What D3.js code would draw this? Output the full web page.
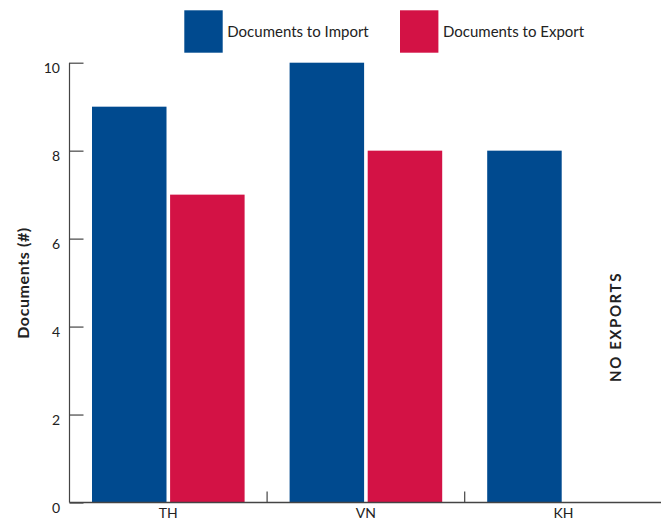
<!DOCTYPE html>
<html>
<head>
<meta charset="utf-8">
<script src="https://cdn.jsdelivr.net/npm/d3@7"></script>
<style>
  body { margin: 0; background: #fff; }
  svg { display: block; font-family: Lato, "Open Sans", sans-serif; }
</style>
</head>
<body>
<div id="chart"></div>
<script>
// Data
const countries = ["TH", "VN", "KH"];
const series = ["Documents to Import", "Documents to Export"];
const importDocs = [9, 10, 8];
const exportDocs = [7, 8, null];
const yTicks = [0, 2, 4, 6, 8, 10];
const colors = ["#004a8f", "#d31245"];

const width = 661, height = 523;
const axisX = 69.5;
const baseline = 502.5;
const plotTop = 62.7;

const svg = d3.select("#chart").append("svg")
  .attr("width", width)
  .attr("height", height);

const y = d3.scaleLinear().domain([0, 10]).range([baseline, plotTop]);
const x = d3.scaleBand().domain(countries).range([axisX, axisX + 3 * 197.6]).padding(0);
const inner = d3.scaleBand().domain(series).range([22.5, x.bandwidth() - 22.5]).paddingInner(0.046);

// bars
const rows = countries.map((c, i) => ({ c, vals: [importDocs[i], exportDocs[i]] }));
const groups = svg.append("g").selectAll("g").data(rows).enter().append("g")
  .attr("transform", d => `translate(${x(d.c)},0)`);
groups.selectAll("rect")
  .data(d => d.vals.map((v, j) => ({ v, s: series[j], j })).filter(e => e.v != null))
  .enter().append("rect")
  .attr("x", d => inner(d.s))
  .attr("width", inner.bandwidth())
  .attr("y", d => y(d.v))
  .attr("height", d => baseline - y(d.v))
  .attr("fill", d => colors[d.j]);

// y axis
const yAxis = svg.append("g")
  .attr("transform", `translate(${axisX},0)`)
  .call(d3.axisRight(y).tickValues(yTicks).tickSize(14).tickFormat(""));
yAxis.select(".domain").remove();
yAxis.selectAll("line").attr("stroke", "#444").attr("stroke-width", 1.2);
svg.append("line")
  .attr("x1", axisX).attr("x2", axisX)
  .attr("y1", y(10)).attr("y2", baseline)
  .attr("stroke", "#444").attr("stroke-width", 1.2);
svg.append("g").selectAll("text").data(yTicks).enter().append("text")
  .attr("x", 60).attr("y", d => y(d) + 10.5)
  .attr("text-anchor", "end")
  .attr("font-size", 14)
  .attr("fill", "#222")
  .text(d => d);

// x axis
svg.append("line")
  .attr("x1", axisX).attr("x2", width)
  .attr("y1", baseline).attr("y2", baseline)
  .attr("stroke", "#444").attr("stroke-width", 1.5);
svg.append("g").selectAll("line").data(countries.slice(1)).enter().append("line")
  .attr("x1", d => x(d)).attr("x2", d => x(d))
  .attr("y1", baseline - 11).attr("y2", baseline)
  .attr("stroke", "#444").attr("stroke-width", 1.2);
svg.append("g").selectAll("text").data(countries).enter().append("text")
  .attr("x", d => x(d) + x.bandwidth() / 2)
  .attr("y", 518)
  .attr("text-anchor", "middle")
  .attr("font-size", 14)
  .attr("fill", "#222")
  .text(d => d);

// y axis title
svg.append("text")
  .attr("transform", "translate(29,283) rotate(-90)")
  .attr("text-anchor", "middle")
  .attr("font-size", 16)
  .attr("font-weight", "bold")
  .attr("letter-spacing", 0.6)
  .attr("fill", "#222")
  .text("Documents (#)");

// annotation
svg.append("text")
  .attr("transform", "translate(621,327) rotate(-90)")
  .attr("text-anchor", "middle")
  .attr("font-size", 15)
  .attr("font-weight", "bold")
  .attr("letter-spacing", 1.6)
  .attr("fill", "#222")
  .text("NO EXPORTS");

// legend
const legend = svg.append("g").selectAll("g").data(series).enter().append("g")
  .attr("transform", (d, i) => `translate(${[184.3, 400][i]},10.3)`);
legend.append("rect")
  .attr("width", 38.4).attr("height", 42.4)
  .attr("fill", (d, i) => colors[i]);
legend.append("text")
  .attr("x", 43).attr("y", 26.5)
  .attr("font-size", 15)
  .attr("fill", "#222")
  .text(d => d);
</script>
</body>
</html>
